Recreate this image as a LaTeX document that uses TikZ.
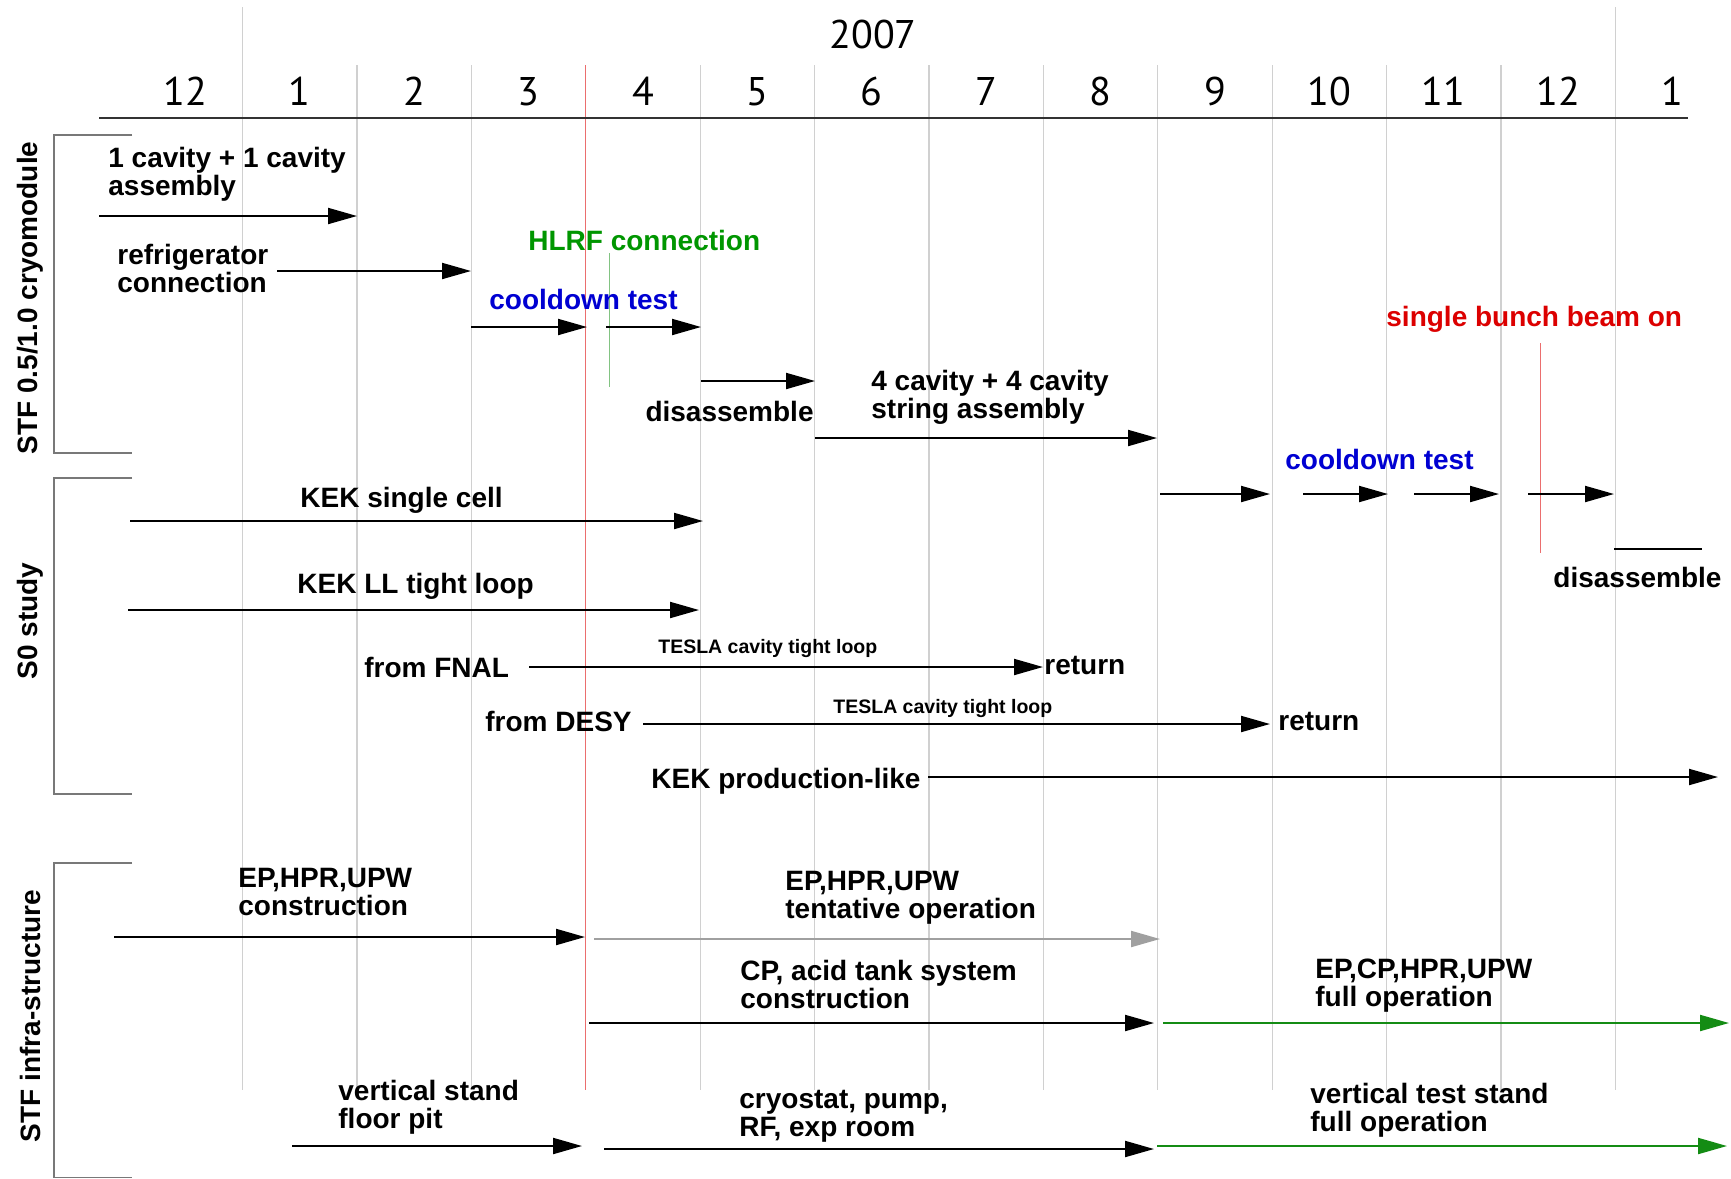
\documentclass[tikz,border=0pt]{standalone}
\usepackage{fontspec}
\setmainfont{Liberation Sans}
\newfontfamily\monthfont{PT Sans}
\usetikzlibrary{arrows.meta}
\definecolor{gridgray}{RGB}{208,208,208}
\definecolor{axisgray}{RGB}{50,50,50}
\definecolor{brgray}{RGB}{120,120,120}
\definecolor{milered}{RGB}{235,110,110}
\definecolor{milegreen}{RGB}{130,195,130}
\definecolor{txtgreen}{RGB}{0,150,0}
\definecolor{txtblue}{RGB}{0,0,210}
\definecolor{txtred}{RGB}{220,0,0}
\definecolor{arrgreen}{RGB}{20,140,20}
\definecolor{arrgray}{RGB}{160,160,160}
\begin{document}
\begin{tikzpicture}[x=0.5pt,y=-0.5pt,
  lbl/.style={font=\bfseries\fontsize{14}{14}\selectfont, anchor=base west, inner sep=0pt, align=left},
  small/.style={font=\bfseries\fontsize{9.75}{10}\selectfont, anchor=base west, inner sep=0pt},
  side/.style={font=\bfseries\fontsize{14}{14}\selectfont, rotate=90, inner sep=0pt},
  month/.style={font=\monthfont\fontsize{20}{20}\selectfont, anchor=base, inner sep=0pt},
  bar/.style={line width=1pt, -{Triangle[length=14.5pt,width=8pt]}},
  gridline/.style={draw=gridgray, line width=0.6pt},
  bracket/.style={draw=brgray, line width=0.6pt}]
\useasboundingbox[fill=white] (0,0) rectangle (1731,1179);

% grid lines
\draw[gridline] (242.5,7) -- (242.5,1090);
\foreach \k in {1,2,4,5,6,7,8,9,10,11} {
  \draw[gridline] ({242.5+114.4*\k},65) -- ({242.5+114.4*\k},1090);
}
\draw[gridline] (1615.3,7) -- (1615.3,1090);
\draw[draw=milered, line width=0.6pt] (585.7,65) -- (585.7,1090);

% axis
\draw[axisgray, line width=1pt] (99,118) -- (1688,118);
\node[month] (year) at (873,48) {2007};
\foreach \m [count=\i from 0] in {12,1,2,3,4,5,6,7,8,9,10,11,12,1} {
  \node[month] (m\i) at ({242.5+114.4*(\i-0.5)},105) {\m};
}

% brackets
\draw[bracket] (132,135) -- (54,135) -- (54,453) -- (132,453);
\draw[bracket] (132,478) -- (54,478) -- (54,794) -- (132,794);
\draw[bracket] (132,863) -- (54,863) -- (54,1177.5) -- (132,1177.5);
\node[side] (g1) at (30,298) {STF 0.5/1.0 cryomodule};
\node[side] (g2) at (30,621) {S0 study};
\node[side] (g3) at (30,1016) {STF infra-structure};

% milestone markers
\draw[milegreen, line width=0.6pt] (609.4,253) -- (609.4,387);
\draw[milered, line width=0.6pt] (1540.6,343) -- (1540.6,553);

% STF cryomodule
\node[lbl] (t1) at (108,195) {1 cavity + 1 cavity\\assembly};
\draw[bar] (99,216) -- (357,216);
\node[lbl] (t2) at (117,292) {refrigerator\\connection};
\draw[bar] (277,271) -- (471,271);
\node[lbl, text=txtgreen] (t3) at (528,250) {HLRF connection};
\node[lbl, text=txtblue] (t4) at (489,309) {cooldown test};
\draw[bar] (471,327) -- (587,327);
\draw[bar] (606,327) -- (701,327);
\draw[bar] (701,381) -- (815,381);
\node[lbl, anchor=base east] (t5) at (814,421) {disassemble};
\node[lbl] (t6) at (871,418) {4 cavity + 4 cavity\\string assembly};
\draw[bar] (815,438) -- (1157,438);
\node[lbl, text=txtred] (t7) at (1386,326) {single bunch beam on};
\node[lbl, text=txtblue] (t8) at (1285,469) {cooldown test};
\draw[bar] (1160,494) -- (1270,494);
\draw[bar] (1303,494) -- (1388,494);
\draw[bar] (1414,494) -- (1499,494);
\draw[bar] (1528,494) -- (1614,494);
\draw[line width=1pt] (1614,549) -- (1702,549);
\node[lbl] (t9) at (1553,587) {disassemble};

% S0 study
\node[lbl] (s1) at (300,507) {KEK single cell};
\draw[bar] (130,521) -- (703,521);
\node[lbl] (s2) at (297,593) {KEK LL tight loop};
\draw[bar] (128,610) -- (699,610);
\node[small] (s3) at (658,653) {TESLA cavity tight loop};
\node[lbl] (s4) at (364,677) {from FNAL};
\draw[bar] (529,667) -- (1043,667);
\node[lbl] (s5) at (1044,674) {return};
\node[small] (s6) at (833,713) {TESLA cavity tight loop};
\node[lbl] (s7) at (485,731) {from DESY};
\draw[bar] (643,724) -- (1270,724);
\node[lbl] (s8) at (1278,730) {return};
\node[lbl] (s9) at (651,788) {KEK production-like};
\draw[bar] (928,777) -- (1718,777);

% infrastructure
\node[lbl] (i1) at (238,915) {EP,HPR,UPW\\construction};
\draw[bar] (114,937) -- (585,937);
\node[lbl] (i2) at (785,918) {EP,HPR,UPW\\tentative operation};
\draw[bar, arrgray] (594,939) -- (1160,939);
\node[lbl] (i3) at (740,1008) {CP, acid tank system\\construction};
\draw[bar] (589,1023) -- (1154,1023);
\node[lbl] (i4) at (1315,1006) {EP,CP,HPR,UPW\\full operation};
\draw[bar, arrgreen] (1163,1023) -- (1729,1023);
\node[lbl] (i5) at (338,1128) {vertical stand\\floor pit};
\draw[bar] (292,1146) -- (582,1146);
\node[lbl] (i6) at (739,1136) {cryostat, pump,\\RF, exp room};
\draw[bar] (604,1149) -- (1154,1149);
\node[lbl] (i7) at (1310,1131) {vertical test stand\\full operation};
\draw[bar, arrgreen] (1157,1146) -- (1727,1146);
\end{tikzpicture}
\end{document}
